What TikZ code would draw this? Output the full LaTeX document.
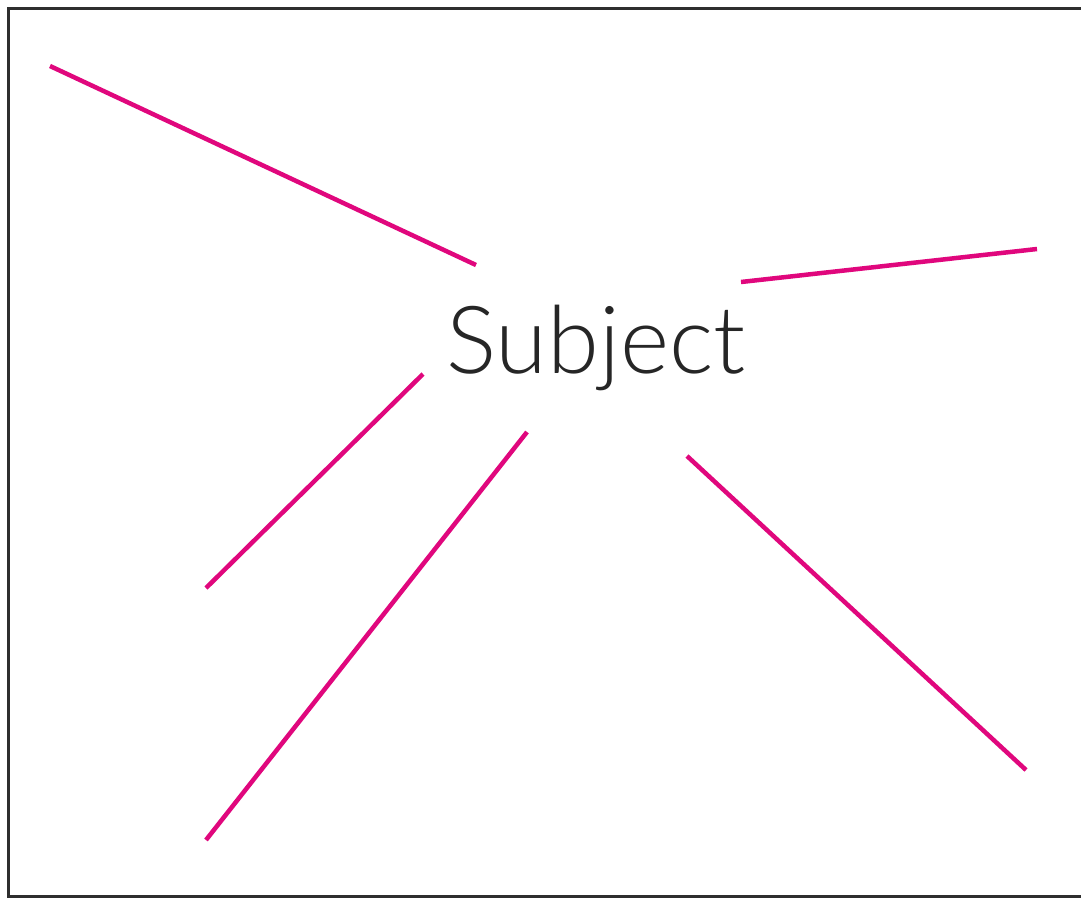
\documentclass[tikz,border=0pt]{standalone}
\usepackage{fontspec}
\setmainfont{Lato Light}
\definecolor{rayc}{HTML}{E0077D}
\definecolor{framec}{HTML}{2E2E2E}
\begin{document}
\begin{tikzpicture}[x=1pt,y=-1pt,
  ray/.style={draw=rayc,line width=4.5pt},
  frame/.style={draw=framec,line width=3pt},
  subj/.style={font=\fontsize{94}{100}\selectfont,text=black!85,inner sep=0pt,anchor=base}]
\useasboundingbox (0,0) rectangle (1081,898);
\fill[white] (0,0) rectangle (1081,898);
\draw[frame] (1085,8) -- (8,8) -- (8,896) -- (1085,896);
\node[subj] (s) at (596,373) {Subject};
\coordinate (a1) at (50,66);   \coordinate (a2) at (476,265);
\coordinate (b1) at (741,282); \coordinate (b2) at (1037,249);
\coordinate (c1) at (423,374); \coordinate (c2) at (206,588);
\coordinate (d1) at (527,432); \coordinate (d2) at (206,840);
\coordinate (e1) at (687,456); \coordinate (e2) at (1026,770);
\draw[ray] (a1) -- (a2);
\draw[ray] (b1) -- (b2);
\draw[ray] (c1) -- (c2);
\draw[ray] (d1) -- (d2);
\draw[ray] (e1) -- (e2);
\end{tikzpicture}
\end{document}
